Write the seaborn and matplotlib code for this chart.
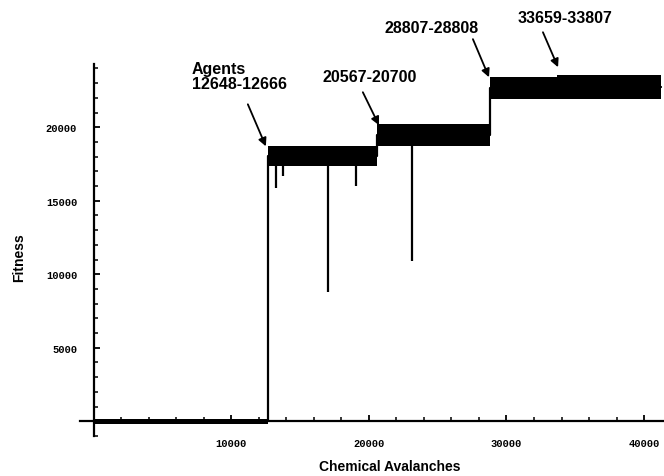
import numpy as np
import pandas as pd
import matplotlib
matplotlib.use("Agg")
import matplotlib.pyplot as plt
from matplotlib.ticker import MultipleLocator, FixedLocator
import seaborn as sns

# ---- data ----
phase_start = [0, 12648, 20567, 28807, 33659]
phase_end = [12648, 20567, 28807, 33659, 41200]
band_low = [-150, 17350, 18700, 21900, 21900]
band_high = [150, 18700, 20200, 23400, 23550]

spike_x = [13240, 13750, 17000, 19050, 23100]
spike_min = [15900, 16650, 8800, 16000, 10900]

x_ticks = [10000, 20000, 30000, 40000]
y_ticks = [5000, 10000, 15000, 20000]

ann_labels = ["Agents\n12648-12666", "20567-20700", "28807-28808", "33659-33807"]
ann_head_x = [12510, 20730, 28730, 33750]
ann_head_y = [18700, 20140, 23400, 24080]
ann_tail_x = [11200, 19560, 27560, 32650]
ann_tail_y = [21560, 22380, 25990, 26460]
ann_text_x = [7130, 16650, 21160, 30840]
ann_text_y = [23500, 23470, 26800, 27480]

sns.set_theme(style="white")
plt.rcParams["font.family"] = ["Liberation Sans", "DejaVu Sans"]
plt.rcParams["text.color"] = "black"
plt.rcParams["axes.labelcolor"] = "black"
plt.rcParams["xtick.color"] = "black"
plt.rcParams["ytick.color"] = "black"

fig = plt.figure(figsize=(6.64, 4.77), dpi=100)
ax = fig.add_axes([80 / 664, 40 / 477, 584 / 664, 372 / 477])

# step trace (centre of each fitness band)
mid = [(lo + hi) / 2 for lo, hi in zip(band_low, band_high)]
df = pd.DataFrame({"x": phase_start + [phase_end[-1]], "y": mid + [mid[-1]]})
sns.lineplot(data=df, x="x", y="y", ax=ax, color="black", lw=1.6,
             drawstyle="steps-post", estimator=None)

# noisy bands drawn as envelopes
bx = phase_start + [phase_end[-1]]
ax.fill_between(bx, band_low + [band_low[-1]], band_high + [band_high[-1]],
                step="post", color="black", lw=0)

# downward spikes
for sx, sm in zip(spike_x, spike_min):
    idx = np.searchsorted(phase_start, sx, side="right") - 1
    ax.vlines(sx, sm, band_low[idx], color="black", lw=1.6)

ax.set_xlim(-1000, 41450)
ax.set_ylim(-1000, 24300)

for s in ["top", "right"]:
    ax.spines[s].set_visible(False)
ax.spines["left"].set_position(("data", 0))
ax.spines["bottom"].set_position(("data", 0))
for s in ["left", "bottom"]:
    ax.spines[s].set_color("black")
    ax.spines[s].set_linewidth(1.6)

ax.xaxis.set_major_locator(FixedLocator(x_ticks))
ax.yaxis.set_major_locator(FixedLocator(y_ticks))
ax.xaxis.set_minor_locator(MultipleLocator(2000))
ax.yaxis.set_minor_locator(MultipleLocator(1000))
ax.tick_params(axis="both", which="both", direction="in", color="black",
               labelcolor="black", bottom=True, left=True)
ax.tick_params(axis="both", which="major", length=4, width=1.3)
ax.tick_params(axis="both", which="minor", length=3, width=1.1)
ax.tick_params(axis="x", which="major", pad=12)
ax.tick_params(axis="y", which="major", pad=12)
ax.set_xticklabels([str(v) for v in x_ticks], fontfamily="Liberation Mono",
                   fontweight="bold", fontsize=7.5)
ax.set_yticklabels([str(v) for v in y_ticks], fontfamily="Liberation Mono",
                   fontweight="bold", fontsize=7.5)

ax.set_xlabel("Chemical Avalanches", fontsize=10, fontweight="bold", color="black")
ax.set_ylabel("Fitness", fontsize=10, fontweight="bold", color="black")
ax.xaxis.set_label_coords(0.531, -0.062)
ax.yaxis.set_label_coords(-0.0925, 0.481)

for lab, hx, hy, tx, ty, px, py in zip(ann_labels, ann_head_x, ann_head_y,
                                       ann_tail_x, ann_tail_y, ann_text_x, ann_text_y):
    ax.annotate("", xy=(hx, hy), xytext=(tx, ty), annotation_clip=False,
                arrowprops=dict(arrowstyle="-|>", color="black", lw=1.3,
                                mutation_scale=12, shrinkA=0, shrinkB=0))
    ax.text(px, py, lab, fontsize=11.5, fontweight="bold", ha="left", va="center",
            linespacing=1.0, clip_on=False, color="black")

fig.savefig("out.png", dpi=100)
